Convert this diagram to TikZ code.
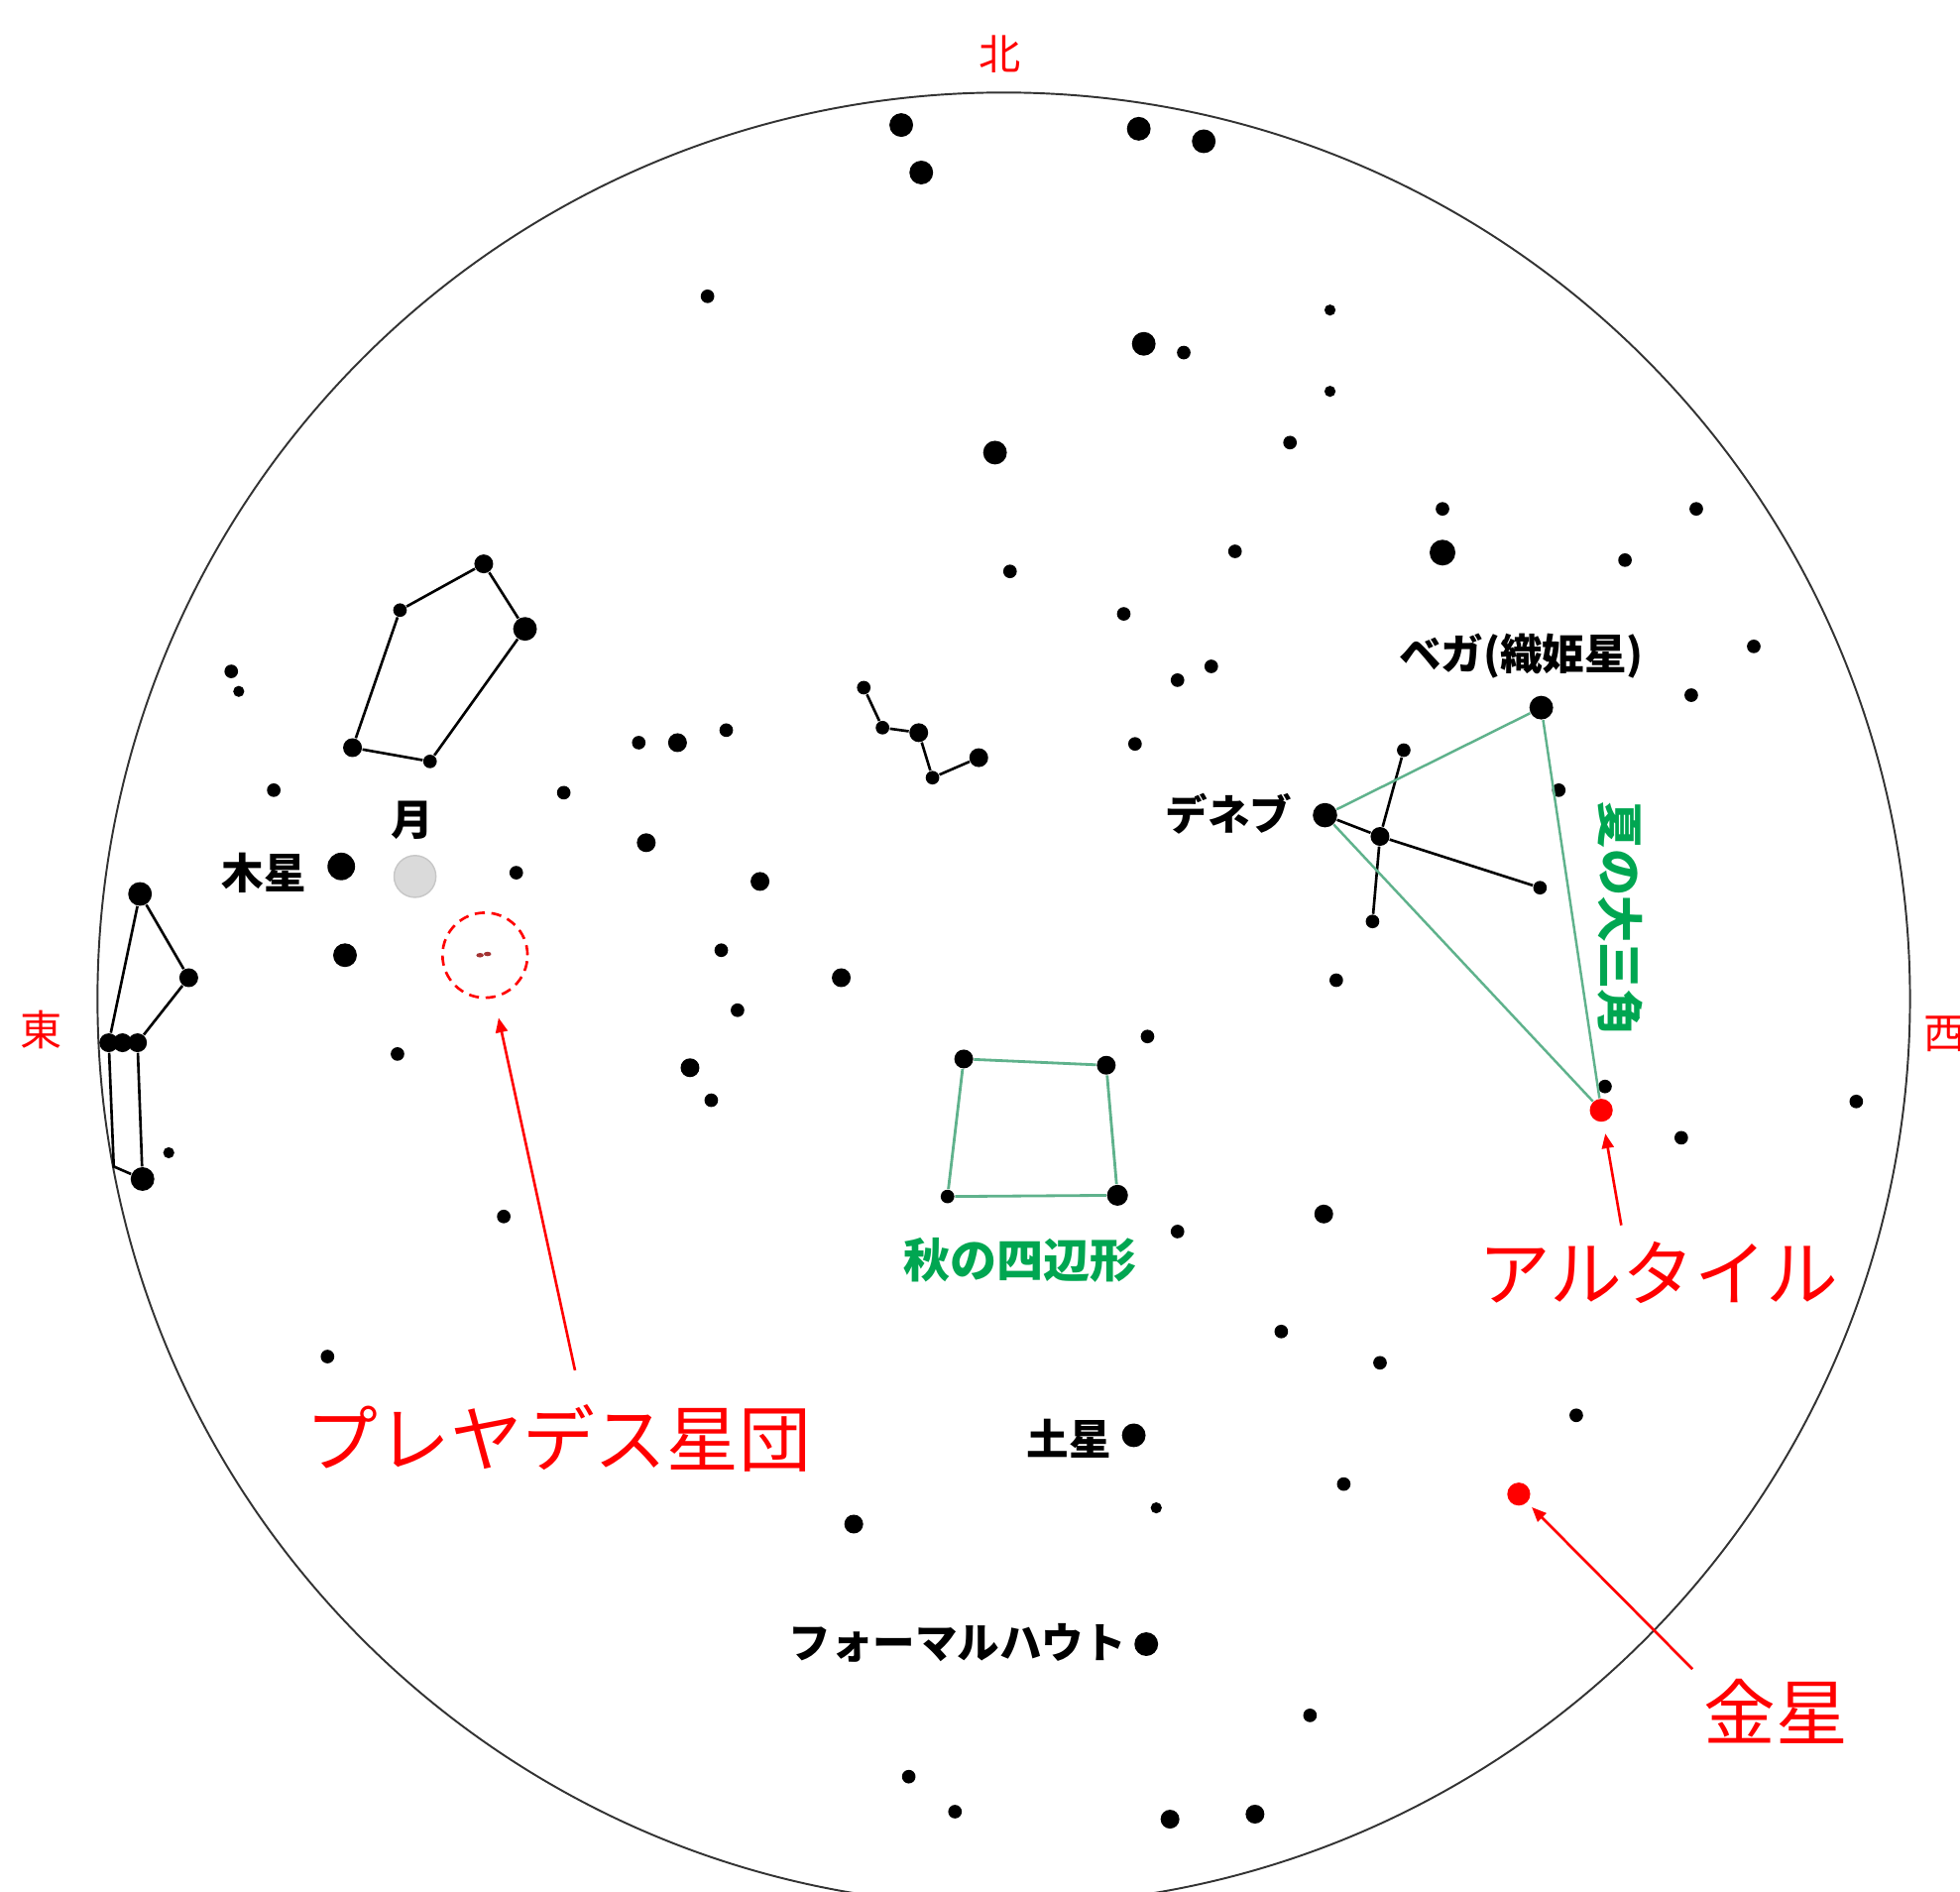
\documentclass[tikz,border=0pt]{standalone}
\usepackage{fontspec}
\setmainfont{Noto Sans CJK JP}
\usetikzlibrary{arrows.meta}
\definecolor{markred}{RGB}{255,0,0}
\definecolor{asterline}{RGB}{95,178,140}
\definecolor{astertext}{RGB}{0,166,81}
\definecolor{moongray}{RGB}{218,218,218}
\begin{document}
\begin{tikzpicture}[x=0.0126cm,y=-0.0126cm,
  star/.style={circle,fill=black,draw=none,inner sep=0pt,minimum size=#1},
  big/.style={star=6.8pt},
  med/.style={star=5.4pt},
  sml/.style={star=3.9pt},
  tny/.style={star=3.2pt},
  planet/.style={circle,fill=markred,inner sep=0pt,minimum size=6.6pt},
  figline/.style={draw=black,line width=0.75pt},
  asterism/.style={draw=asterline,line width=0.7pt},
  namelabel/.style={font=\fontsize{12.1pt}{14pt}\selectfont\bfseries,text=black,inner sep=0pt},
  greenlabel/.style={font=\fontsize{13.4pt}{15pt}\selectfont\bfseries,text=astertext,inner sep=0pt},
  bigred/.style={font=\fontsize{20.7pt}{24pt}\selectfont,text=markred,inner sep=0pt},
  compass/.style={font=\fontsize{12pt}{14pt}\selectfont,text=markred,inner sep=0pt},
  pointer/.style={draw=markred,line width=0.75pt,-{Triangle[length=4.2pt,width=3.4pt]}}
]
\path[use as bounding box] (0,0) rectangle (1568,1513);
\clip (0,0) rectangle (1568,1513);

% horizon
\node[circle,draw=black!80,line width=0.55pt,minimum size=1450*0.0126cm,inner sep=0pt] (horizon) at (803,799) {};

% compass points
\node[compass] (north) at (800,43) {北};
\node[compass] (east) at (33,824) {東};
\node[compass] (west) at (1556,827) {西};

% ---- stars, northern part ----
\node[big] (n1) at (721,100) {};
\node[big] (n2) at (737,138) {};
\node[big] (n3) at (911,103) {};
\node[big] (n4) at (963,113) {};
\node[sml] (n5) at (566,237) {};
\node[tny] (n6) at (1064,248) {};
\node[big] (n7) at (915,275) {};
\node[sml] (n8) at (947,282) {};
\node[tny] (n9) at (1064,313) {};
\node[big] (n10) at (796,362) {};
\node[sml] (n11) at (1032,354) {};
\node[sml] (n12) at (1154,407) {};
\node[sml] (n13) at (1357,407) {};
\node[star=7.4pt] (n14) at (1154,442) {};
\node[sml] (n15) at (988,441) {};
\node[sml] (n16) at (1300,448) {};
\node[sml] (n17) at (808,457) {};
\node[sml] (n18) at (899,491) {};
\node[sml] (n19) at (1403,517) {};
\node[sml] (n20) at (942,544) {};
\node[sml] (n21) at (969,533) {};
\node[sml] (n22) at (1353,556) {};
\node[sml] (n23) at (908,595) {};

% ---- Cygnus and Lyra ----
\node[big] (vega) at (1233,566) {};
\node[sml] (cyg1) at (1123,600) {};
\node[sml] (lyr1) at (1247,632) {};
\node[star=7pt] (deneb) at (1060,652) {};
\node[med] (cyg2) at (1104,669) {};
\node[sml] (cyg3) at (1232,710) {};
\node[sml] (cyg4) at (1098,737) {};
\node[sml] (w1) at (1069,784) {};
\node[sml] (aql1) at (1284,869) {};
\node[planet] (altair) at (1281,888) {};
\node[sml] (w2) at (1345,910) {};
\node[sml] (w3) at (1485,881) {};

% ---- southern part ----
\node[sml] (s1) at (918,829) {};
\node[med] (s2) at (1059,971) {};
\node[sml] (s3) at (942,985) {};
\node[sml] (s4) at (1025,1065) {};
\node[sml] (s5) at (1104,1090) {};
\node[sml] (s6) at (1261,1132) {};
\node[sml] (s7) at (1075,1187) {};
\node[planet] (venus) at (1215,1195) {};
\node[big] (saturn) at (907,1148) {};
\node[tny] (s8) at (925,1206) {};
\node[med] (s9) at (683,1219) {};
\node[big] (fomalhaut) at (917,1315) {};
\node[sml] (s10) at (1048,1372) {};
\node[sml] (s11) at (727,1421) {};
\node[sml] (s12) at (764,1449) {};
\node[med] (s13) at (936,1455) {};
\node[med] (s14) at (1004,1451) {};

% ---- Delphinus-like chain ----
\node[sml] (d1) at (691,550) {};
\node[sml] (d2) at (706,582) {};
\node[med] (d3) at (735,586) {};
\node[sml] (d4) at (746,622) {};
\node[med] (d5) at (783,606) {};

% ---- Great Square ----
\node[med] (sq1) at (771,847) {};
\node[med] (sq2) at (885,852) {};
\node[star=6pt] (sq3) at (894,956) {};
\node[sml] (sq4) at (758,957) {};

% ---- eastern part ----
\node[sml] (cas1) at (320,488) {};
\node[med] (cas2) at (387,451) {};
\node[big] (cas3) at (420,503) {};
\node[sml] (cas4) at (344,609) {};
\node[med] (cas5) at (282,598) {};
\node[sml] (e1) at (185,537) {};
\node[tny] (e2) at (191,553) {};
\node[sml] (e3) at (219,632) {};
\node[sml] (e4) at (511,594) {};
\node[med] (e5) at (542,594) {};
\node[sml] (e6) at (581,584) {};
\node[sml] (e7) at (451,634) {};
\node[med] (e8) at (517,674) {};
\node[sml] (e9) at (413,698) {};
\node[med] (e10) at (608,705) {};
\node[sml] (e11) at (577,760) {};
\node[med] (e12) at (673,782) {};
\node[sml] (e13) at (590,808) {};
\node[med] (e14) at (552,854) {};
\node[sml] (e15) at (569,880) {};
\node[star=7.9pt] (jupiter) at (273,693) {};
\node[circle,fill=moongray,draw=black!22,line width=0.4pt,inner sep=0pt,minimum size=12pt] (moon) at (332,701) {};
\node[big] (e16) at (276,764) {};
\node[sml] (e17) at (318,843) {};
\node[sml] (e18) at (403,973) {};
\node[sml] (e19) at (262,1085) {};

% ---- Auriga on the eastern horizon ----
\node[big] (aur1) at (112,715) {};
\node[med] (aur2) at (151,782) {};
\node[med] (aur3) at (87,834) {};
\node[med] (aur4) at (98,834) {};
\node[med] (aur5) at (110,834) {};
\node[tny] (aur6) at (135,922) {};
\node[big] (aur7) at (114,943) {};
\coordinate (aurbend) at (91,933);

% Pleiades
\node[circle,draw=markred,line width=0.75pt,dash pattern=on 2.9pt off 1.9pt,inner sep=0pt,minimum size=68*0.0126cm] (pleiades) at (388,764) {};
\fill[red!55!black,opacity=0.8] (384,764) ellipse [x radius=3,y radius=1.8];
\fill[red!55!black,opacity=0.8] (390,763) ellipse [x radius=3,y radius=1.8];

% ---- figure lines ----
\draw[figline] (cas1) -- (cas2) -- (cas3) -- (cas4) -- (cas5) -- (cas1);
\draw[figline] (d1) -- (d2) -- (d3) -- (d4) -- (d5);
\draw[figline] (aur1) -- (aur2) -- (aur5) -- (aur7);
\draw[figline] (aur1) -- (aur3);
\draw[figline] (aur3) -- (aurbend) -- (aur7);
\draw[figline] (cyg1) -- (cyg2) -- (cyg4);
\draw[figline] (deneb) -- (cyg2) -- (cyg3);

% asterisms
\draw[asterism] (vega) -- (deneb) -- (altair) -- (vega);
\draw[asterism,line width=0.8pt] (sq1) -- (sq2) -- (sq3) -- (sq4) -- (sq1);

% ---- labels ----
\node[namelabel] (lvega) at (1217,525) {ベガ(織姫星)};
\node[namelabel] (ldeneb) at (983,651) {デネブ};
\node[namelabel] (lmoon) at (330,656) {月};
\node[namelabel] (ljupiter) at (211,698) {木星};
\node[namelabel] (lsaturn) at (855,1151) {土星};
\node[namelabel] (lfomalhaut) at (766,1314) {フォーマルハウト};
\node[greenlabel] (lsquare) at (816,1008) {秋の四辺形};
\node[greenlabel,rotate=-90] (ltriangle) at (1296,735) {夏の大三角};
\node[bigred] (laltair) at (1327,1018) {アルタイル};
\node[bigred] (lpleiades) at (447,1150) {プレヤデス星団};
\node[bigred] (lvenus) at (1421,1369) {金星};

% ---- pointers ----
\coordinate (plfrom) at (460,1096);
\coordinate (alfrom) at (1297,980);
\coordinate (vefrom) at (1354,1335);
\draw[pointer,shorten >=5.8pt] (plfrom) -- (pleiades);
\draw[pointer,shorten >=3.3pt] (alfrom) -- (altair);
\draw[pointer,shorten >=1.8pt] (vefrom) -- (venus);
\end{tikzpicture}
\end{document}
